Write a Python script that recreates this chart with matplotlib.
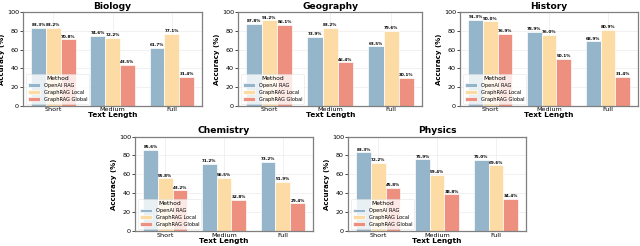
import numpy as np
import matplotlib
matplotlib.use("Agg")
import matplotlib.pyplot as plt

# ─── DATA ─────────────────────────────────────────────────────────
subjects = ["Biology", "Geography", "History", "Chemistry", "Physics"]
lengths = ["Short", "Medium", "Full"]
methods = ["OpenAI RAG", "GraphRAG Local", "GraphRAG Global"]

openai_rag = {
    "Biology":   [83.3, 74.6, 61.7],
    "Geography": [87.8, 73.9, 63.5],
    "History":   [91.3, 78.9, 68.9],
    "Chemistry": [85.6, 71.2, 73.2],
    "Physics":   [83.3, 75.9, 75.0],
}
graphrag_local = {
    "Biology":   [83.2, 72.2, 77.1],
    "Geography": [91.2, 83.2, 79.6],
    "History":   [90.0, 76.0, 80.9],
    "Chemistry": [55.8, 56.5, 51.9],
    "Physics":   [72.2, 59.4, 69.6],
}
graphrag_global = {
    "Biology":   [70.8, 43.5, 31.4],
    "Geography": [86.1, 46.4, 30.1],
    "History":   [76.9, 50.1, 31.4],
    "Chemistry": [43.2, 32.8, 29.4],
    "Physics":   [45.8, 38.8, 34.4],
}

colors = ["#8fb1c9", "#fdd9a0", "#ee8a78"]

# ─── LAYOUT (figure fractions) ────────────────────────────────────
positions = {
    "Biology":   [0.036, 0.569, 0.280, 0.382],
    "Geography": [0.372, 0.569, 0.288, 0.382],
    "History":   [0.719, 0.569, 0.278, 0.382],
    "Chemistry": [0.211, 0.060, 0.278, 0.385],
    "Physics":   [0.544, 0.060, 0.278, 0.385],
}

fig = plt.figure(figsize=(6.4, 2.46), dpi=100)

x = np.arange(len(lengths))
w = 0.25

for subj in subjects:
    ax = fig.add_axes(positions[subj])
    ax.set_axisbelow(True)
    ax.grid(True, color="#ececec", linewidth=0.5)
    series = [openai_rag[subj], graphrag_local[subj], graphrag_global[subj]]
    for i, (vals, name) in enumerate(zip(series, methods)):
        bars = ax.bar(x + (i - 1) * w, vals, w, color=colors[i], label=name,
                      edgecolor="white", linewidth=0.5, alpha=0.95)
        for b, v in zip(bars, vals):
            ax.text(b.get_x() + b.get_width() / 2, v + 0.8, f"{v:.1f}%",
                    ha="center", va="bottom", fontsize=3.0, fontweight="bold")

    ax.set_ylim(0, 100)
    ax.set_xticks(x)
    ax.set_xticklabels(lengths, fontsize=4.6)
    ax.tick_params(axis="y", labelsize=4.6, length=2, width=0.5, pad=1)
    ax.tick_params(axis="x", length=0, pad=1)
    ax.set_title(subj, fontsize=6.6, fontweight="bold", pad=2.5)
    ax.set_xlabel("Text Length", fontsize=5.3, fontweight="bold", labelpad=0)
    ax.set_ylabel("Accuracy (%)", fontsize=5, fontweight="bold", labelpad=1)
    for sp in ax.spines.values():
        sp.set_color("#7f7f7f")
        sp.set_linewidth(0.9)

    leg = ax.legend(title="Method", loc="lower left", fontsize=3.6,
                    title_fontsize=4.3, framealpha=0.8, edgecolor="#dddddd",
                    handlelength=2.4, handleheight=0.8, borderpad=0.4,
                    labelspacing=0.35)
    leg.get_frame().set_linewidth(0.4)

fig.savefig("out.png", dpi=100)
